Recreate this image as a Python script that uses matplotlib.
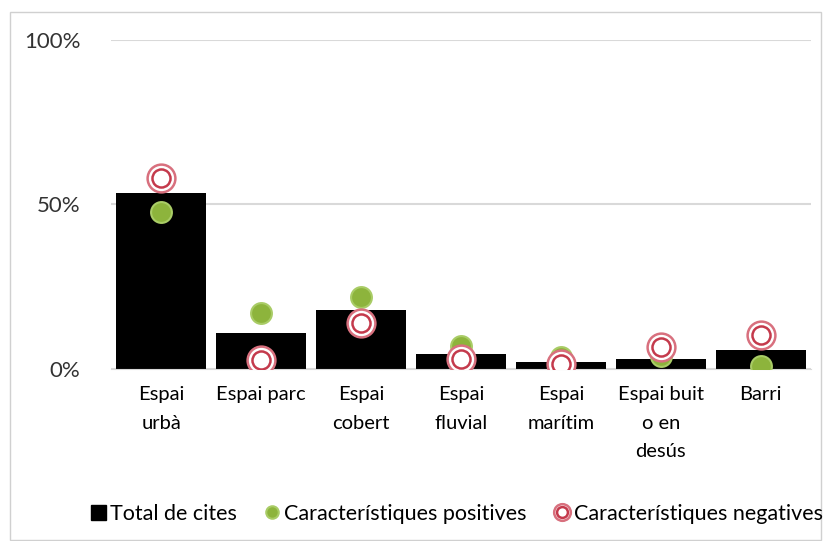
import matplotlib.pyplot as plt
import numpy as np
from matplotlib.patches import Rectangle

categories = ['Espai\nurbà', 'Espai parc', 'Espai\ncobert', 'Espai\nfluvial',
              'Espai\nmarítim', 'Espai buit\no en\ndesús', 'Barri']
total = [53.5, 11, 18, 4.5, 2, 3, 5.8]
positives = [47.7, 17, 22, 7, 3.6, 4, 1]
negatives = [58, 2.7, 14, 3, 1.5, 6.7, 10.3]
yticks = [0, 50, 100]
ylabels = ['0%', '50%', '100%']

plt.rcParams['font.family'] = ['Lato', 'DejaVu Sans']

fig = plt.figure(figsize=(8.23, 5.41), dpi=100)
ax = fig.add_axes([0.135, 0.318, 0.85, 0.608])
fig.patches.append(Rectangle((0.012, 0.002), 0.986, 0.976, transform=fig.transFigure,
                             fill=False, edgecolor='#D0D0D0', linewidth=1))

x = np.arange(len(categories))
ax.bar(x, total, width=0.9, color='black', zorder=2, label='Total de cites')
pos = ax.plot(x, positives, 'o', ms=15, mfc='#8DB43C', mec='#A9CC66', mew=1.5, zorder=3)[0]
neg_out = ax.plot(x, negatives, 'o', ms=20, mfc='white', mec='#D8707E', mew=1.8, zorder=4)[0]
neg_in = ax.plot(x, negatives, 'o', ms=13, mfc='white', mec='#C43A4C', mew=1.8, zorder=5)[0]

ax.set_xlim(-0.5, len(categories) - 0.5)
ax.set_ylim(0, 100)
ax.set_yticks(yticks)
ax.set_yticklabels(ylabels, fontsize=16, color='#333333')
ax.set_xticks(x)
ax.set_xticklabels(categories, fontsize=14.5, linespacing=1.85, va='top')
ax.tick_params(length=0, pad=12)
ax.tick_params(axis='y', pad=22)
ax.grid(axis='y', color='#D9D9D9', linewidth=1.5, zorder=0)
for s in ['top', 'right', 'left']:
    ax.spines[s].set_visible(False)
ax.spines['bottom'].set_color('#D9D9D9')

bar_handle = Rectangle((0, 0), 1, 1, color='black')
fig.legend([bar_handle, pos, (neg_out, neg_in)],
           ['Total de cites', 'Característiques positives', 'Característiques negatives'],
           loc='center', bbox_to_anchor=(0.555, 0.05), ncol=3, frameon=False,
           fontsize=15.5, handlelength=0.7, handletextpad=0.2, columnspacing=1.3,
           markerscale=0.6)

fig.savefig('out.png', dpi=100)
